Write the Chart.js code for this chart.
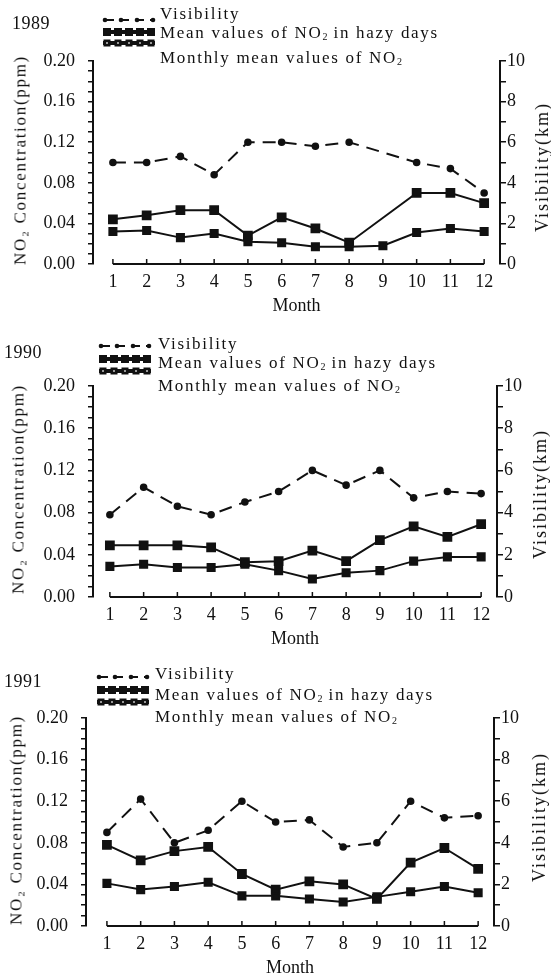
<!DOCTYPE html>
<html>
<head>
<meta charset="utf-8">
<script src="https://cdn.jsdelivr.net/npm/chart.js@4/dist/chart.umd.min.js"></script>
<style>
  body { margin: 0; background: #fff; }
  #wrap { position: relative; width: 551px; height: 976px; overflow: hidden; font-family: "Liberation Serif", "DejaVu Serif", serif; color: #111; }
  .panel { position: absolute; left: 0; width: 551px; }
  .panel canvas { position: absolute; left: 0; top: 0; }
  .year { position: absolute; font-size: 18px; line-height: 1; letter-spacing: 0.5px; transform: translateY(-50%); }
  .lg-text { position: absolute; font-size: 17px; line-height: 1; white-space: nowrap; letter-spacing: 1.7px; transform: translateY(-50%); }
  .lg-text sub { font-size: 10px; vertical-align: -2px; letter-spacing: 0; }
  .swatch { position: absolute; line-height: 0; }
  .vtitle { position: absolute; font-size: 17px; line-height: 1; white-space: nowrap; transform: translate(-50%, -50%) rotate(-90deg); }
</style>
</head>
<body>
<div id="wrap"></div>
<script>
const months = [1, 2, 3, 4, 5, 6, 7, 8, 9, 10, 11, 12];
const years = ['1989', '1990', '1991'];

// visibility (km), right axis
const vis1989 = [5.0, 5.0, 5.3, 4.4, 6.0, 6.0, 5.8, 6.0, null, 5.0, 4.7, 3.5];
const vis1990 = [3.9, 5.2, 4.3, 3.9, 4.5, 5.0, 6.0, 5.3, 6.0, 4.7, 5.0, 4.9];
const vis1991 = [4.5, 6.1, 4.0, 4.6, 6.0, 5.0, 5.1, 3.8, 4.0, 6.0, 5.2, 5.3];

// mean NO2 in hazy days (ppm)
const hazy1989 = [0.044, 0.048, 0.053, 0.053, 0.028, 0.046, 0.035, 0.021, null, 0.070, 0.070, 0.060];
const hazy1990 = [0.049, 0.049, 0.049, 0.047, 0.033, 0.034, 0.044, 0.034, 0.054, 0.067, 0.057, 0.069];
const hazy1991 = [0.078, 0.063, 0.072, 0.076, 0.050, 0.035, 0.043, 0.040, 0.026, 0.061, 0.075, 0.055];

// monthly mean NO2 (ppm)
const monthly1989 = [0.032, 0.033, 0.026, 0.030, 0.022, 0.021, 0.017, 0.017, 0.018, 0.031, 0.035, 0.032];
const monthly1990 = [0.029, 0.031, 0.028, 0.028, 0.031, 0.025, 0.017, 0.023, 0.025, 0.034, 0.038, 0.038];
const monthly1991 = [0.041, 0.035, 0.038, 0.042, 0.029, 0.029, 0.026, 0.023, 0.028, 0.033, 0.038, 0.032];

const no2Ticks = [0, 0.04, 0.08, 0.12, 0.16, 0.2];
const visTicks = [0, 2, 4, 6, 8, 10];

const visData = [vis1989, vis1990, vis1991];
const hazyData = [hazy1989, hazy1990, hazy1991];
const monthlyData = [monthly1989, monthly1990, monthly1991];

// panel placement on the page
const panels = [
  { top: 0,   height: 322, plotTop: 61, plotBottom: 264, left: 93, right: 500, xmin: 0.41, xmax: 12.47,
    year: [12, 23], sw: [102, 20, 32, 43], txt: [160, 13, 33, 58], lt: [20, 160], rt: [542, 167] },
  { top: 322, height: 328, plotTop: 64, plotBottom: 275, left: 93, right: 497, xmin: 0.50, xmax: 12.47,
    year: [4, 30], sw: [98, 24, 37, 49], txt: [158, 21, 41, 64], lt: [18, 167], rt: [540, 172] },
  { top: 650, height: 326, plotTop: 68, plotBottom: 276, left: 86, right: 494, xmin: 0.38, xmax: 12.47,
    year: [4, 31], sw: [96, 27, 40, 52], txt: [155, 23, 45, 67], lt: [16, 170], rt: [539, 167] },
];

const FONT = "'Liberation Serif', 'DejaVu Serif', serif";
const INK = '#111';
const X_HEIGHT = 53;

// x axis drawn only from month 1 to 12, with ticks pointing up
const monthAxis = {
  id: 'monthAxis',
  afterDraw(chart) {
    const x = chart.scales.x, ctx = chart.ctx;
    const yb = chart.chartArea.bottom;
    const x0 = x.getPixelForValue(months[0]), x1 = x.getPixelForValue(months[months.length - 1]);
    ctx.save();
    ctx.strokeStyle = INK;
    ctx.lineWidth = 2;
    ctx.beginPath();
    ctx.moveTo(x0, yb);
    ctx.lineTo(x1, yb);
    ctx.stroke();
    ctx.lineWidth = 1.5;
    months.forEach(m => {
      const px = x.getPixelForValue(m);
      ctx.beginPath();
      ctx.moveTo(px, yb);
      ctx.lineTo(px, yb - 5);
      ctx.stroke();
    });
    ctx.restore();
  }
};

function swatchSvg(kind) {
  let s = '<svg width="54" height="10" xmlns="http://www.w3.org/2000/svg">';
  if (kind === 'vis') {
    s += '<line x1="3" y1="5" x2="51" y2="5" stroke="#111" stroke-width="2" stroke-dasharray="9,6"/>';
    [3, 19, 35, 51].forEach(cx => { s += `<circle cx="${cx}" cy="5" r="2.3" fill="#111"/>`; });
  } else {
    s += '<line x1="1" y1="5" x2="53" y2="5" stroke="#111" stroke-width="4"/>';
    [1, 12, 23, 34, 45].forEach(x => {
      s += kind === 'hazy'
        ? `<rect x="${x}" y="1" width="8" height="8" fill="#111"/>`
        : `<rect x="${x + 0.5}" y="1.5" width="7" height="7" fill="#111"/><rect x="${x + 3}" y="4" width="2" height="2" fill="#999"/>`;
    });
  }
  return s + '</svg>';
}

function pts(arr) {
  return months.map((m, i) => ({ x: m, y: arr[i] }));
}

const wrap = document.getElementById('wrap');

panels.forEach((p, k) => {
  const div = document.createElement('div');
  div.className = 'panel';
  div.style.top = p.top + 'px';
  div.style.height = p.height + 'px';
  wrap.appendChild(div);

  const canvas = document.createElement('canvas');
  canvas.width = 551;
  canvas.height = p.height;
  canvas.style.width = '551px';
  canvas.style.height = p.height + 'px';
  div.appendChild(canvas);

  new Chart(canvas, {
    type: 'line',
    data: {
      datasets: [
        {
          label: 'Visibility',
          data: pts(visData[k]),
          yAxisID: 'yv',
          borderColor: INK,
          backgroundColor: INK,
          borderWidth: 2,
          borderDash: [13, 8],
          pointRadius: 2.8,
          pointStyle: 'circle',
          spanGaps: true,
        },
        {
          label: 'Mean values of NO₂ in hazy days',
          data: pts(hazyData[k]),
          yAxisID: 'y',
          borderColor: INK,
          backgroundColor: INK,
          borderWidth: 2,
          pointStyle: 'rect',
          pointRadius: 5.5,
          spanGaps: true,
        },
        {
          label: 'Monthly mean values of NO₂',
          data: pts(monthlyData[k]),
          yAxisID: 'y',
          borderColor: INK,
          backgroundColor: INK,
          borderWidth: 2,
          pointStyle: 'rect',
          pointRadius: 5,
          spanGaps: true,
        },
      ]
    },
    options: {
      responsive: false,
      animation: false,
      devicePixelRatio: 1,
      layout: {
        padding: { top: p.plotTop, left: 0, right: 0, bottom: p.height - p.plotBottom - X_HEIGHT }
      },
      plugins: {
        legend: { display: false },
        tooltip: { enabled: false },
      },
      scales: {
        x: {
          type: 'linear',
          min: p.xmin,
          max: p.xmax,
          grid: { display: false, drawTicks: false },
          border: { display: false },
          afterBuildTicks: (s) => { s.ticks = months.map(v => ({ value: v })); },
          ticks: { color: INK, font: { family: FONT, size: 18 }, padding: 7, maxRotation: 0, autoSkip: false },
          title: { display: true, text: 'Month', color: INK, font: { family: FONT, size: 18 }, padding: { top: 0, bottom: 0 } },
          afterFit: (s) => { s.height = X_HEIGHT; },
        },
        y: {
          position: 'left',
          min: 0,
          max: 0.2,
          grid: { drawOnChartArea: false, tickLength: 5, color: INK, lineWidth: 1.5 },
          border: { display: true, color: INK, width: 2 },
          ticks: {
            stepSize: 0.01,
            autoSkip: false,
            color: INK,
            padding: 13,
            font: { family: FONT, size: 18 },
            callback: (v) => (no2Ticks.some(t => Math.abs(t - v) < 1e-6) ? v.toFixed(2) : ''),
          },
          afterFit: (s) => { s.width = p.left; },
        },
        yv: {
          position: 'right',
          min: 0,
          max: 10,
          grid: { drawOnChartArea: false, tickLength: 6, color: INK, lineWidth: 1.5 },
          border: { display: true, color: INK, width: 2 },
          ticks: {
            stepSize: 1,
            autoSkip: false,
            color: INK,
            padding: 1,
            font: { family: FONT, size: 18 },
            callback: (v) => (visTicks.includes(v) ? String(v) : ''),
          },
          afterFit: (s) => { s.width = 551 - p.right; },
        },
      }
    },
    plugins: [monthAxis]
  });

  const yr = document.createElement('div');
  yr.className = 'year';
  yr.style.left = p.year[0] + 'px';
  yr.style.top = p.year[1] + 'px';
  yr.textContent = years[k];
  div.appendChild(yr);

  const texts = ['Visibility', 'Mean values of NO<sub>2</sub> in hazy days', 'Monthly mean values of NO<sub>2</sub>'];
  ['vis', 'hazy', 'monthly'].forEach((kind, i) => {
    const sw = document.createElement('div');
    sw.className = 'swatch';
    sw.style.left = p.sw[0] + 'px';
    sw.style.top = (p.sw[i + 1] - 5) + 'px';
    sw.innerHTML = swatchSvg(kind);
    div.appendChild(sw);

    const t = document.createElement('div');
    t.className = 'lg-text';
    t.style.left = p.txt[0] + 'px';
    t.style.top = p.txt[i + 1] + 'px';
    t.innerHTML = texts[i];
    div.appendChild(t);
  });

  const lt = document.createElement('div');
  lt.className = 'vtitle';
  lt.style.left = p.lt[0] + 'px';
  lt.style.top = p.lt[1] + 'px';
  lt.style.letterSpacing = '1.7px';
  lt.textContent = 'NO₂ Concentration(ppm)';
  div.appendChild(lt);

  const rt = document.createElement('div');
  rt.className = 'vtitle';
  rt.style.left = p.rt[0] + 'px';
  rt.style.top = p.rt[1] + 'px';
  rt.style.fontSize = '18px';
  rt.style.letterSpacing = '2px';
  rt.textContent = 'Visibility(km)';
  div.appendChild(rt);
});
</script>
</body>
</html>
